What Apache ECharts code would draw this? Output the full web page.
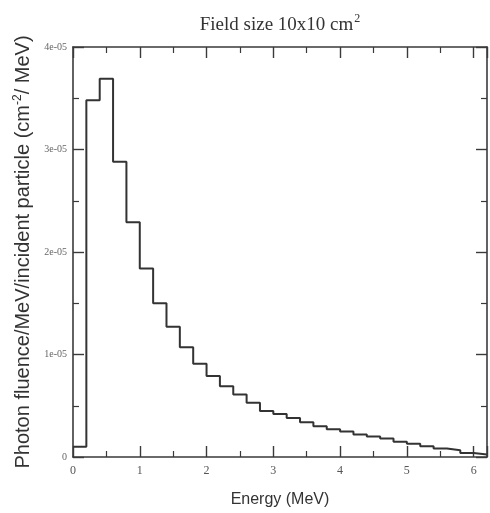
<!DOCTYPE html>
<html>
<head>
<meta charset="utf-8">
<script src="https://cdn.jsdelivr.net/npm/echarts@6/dist/echarts.min.js"></script>
<style>
  html, body { margin: 0; padding: 0; background: #fff; }
  #chart { width: 490px; height: 513px; }
</style>
</head>
<body>
<div id="chart"></div>
<script>
// Photon energy spectrum, 0.2 MeV bins (left bin edges in MeV)
const binEdges = [0.0, 0.2, 0.4, 0.6, 0.8, 1.0, 1.2, 1.4, 1.6, 1.8, 2.0, 2.2, 2.4, 2.6, 2.8, 3.0,
                  3.2, 3.4, 3.6, 3.8, 4.0, 4.2, 4.4, 4.6, 4.8, 5.0, 5.2, 5.4, 5.6, 5.8, 6.0];
const binUpper = 6.2;
// Fluence per bin, in units of 1e-5 photons / cm^2 / MeV / incident particle
const fluence = [0.10, 3.48, 3.69, 2.88, 2.29, 1.84, 1.50, 1.27, 1.07, 0.91, 0.79, 0.69, 0.61, 0.53, 0.45,
                 0.42, 0.38, 0.34, 0.30, 0.27, 0.25, 0.22, 0.20, 0.18, 0.15, 0.13, 0.105, 0.083, 0.067, 0.04, 0.025];
const xTickLabels = ['0', '1', '2', '3', '4', '5', '6'];
const yTickLabels = ['0', '1e-05', '2e-05', '3e-05', '4e-05'];

const scale = 1e-5;
const stepData = binEdges.map((e, i) => [e, fluence[i] * scale]);
stepData.push([binUpper, fluence[fluence.length - 1] * scale]);

const axisColor = '#3a3a3a';
const serif = '"Liberation Serif", "DejaVu Serif", serif';
const sans = '"Liberation Sans", Arial, sans-serif';

const gridLeft = 73, gridRight = 3;
const chartWidth = 490;

const chart = echarts.init(document.getElementById('chart'), null, { renderer: 'canvas' });

const frameAxis = {
  axisLine: { show: true, onZero: false, lineStyle: { color: axisColor, width: 1.6 } },
  axisTick: { show: true, inside: true, length: 11, lineStyle: { color: axisColor, width: 1.4 } },
  minorTick: { show: true, splitNumber: 2, length: 6, lineStyle: { color: axisColor, width: 1.2 } },
  splitLine: { show: false },
  minorSplitLine: { show: false }
};

chart.setOption({
  animation: false,
  backgroundColor: '#ffffff',
  title: {
    text: 'Field size 10x10 cm{sup|2}',
    // centred over the plotting area rather than the whole canvas
    left: (gridLeft + chartWidth - gridRight) / 2,
    textAlign: 'center',
    top: 13,
    padding: 0,
    textStyle: {
      fontFamily: serif, fontSize: 19, fontWeight: 'normal', color: '#333',
      rich: { sup: { fontFamily: serif, fontSize: 12, color: '#333', verticalAlign: 'top', padding: [0, 0, 12, 1] } }
    }
  },
  grid: { left: gridLeft, right: gridRight, top: 47, bottom: 46, containLabel: false },
  xAxis: [
    Object.assign({}, frameAxis, {
      type: 'value', min: 0, max: binUpper, interval: 1, position: 'bottom',
      name: 'Energy (MeV)', nameLocation: 'middle', nameGap: 35,
      nameTextStyle: { fontFamily: sans, fontSize: 16, color: '#333' },
      axisLabel: {
        show: true, margin: 8, fontFamily: serif, fontSize: 12, color: '#555', showMaxLabel: false,
        formatter: (v) => { const i = Math.round(v); return Math.abs(v - i) < 1e-9 ? xTickLabels[i] : ''; }
      }
    }),
    Object.assign({}, frameAxis, {
      type: 'value', min: 0, max: binUpper, interval: 1, position: 'top',
      axisLabel: { show: false }
    })
  ],
  yAxis: [
    Object.assign({}, frameAxis, {
      type: 'value', min: 0, max: 4e-5, interval: 1e-5, position: 'left',
      name: 'Photon fluence/MeV/incident particle (cm{sup|-2}/ MeV)',
      nameLocation: 'middle', nameRotate: 90, nameGap: 36,
      nameTextStyle: {
        fontFamily: sans, fontSize: 20, color: '#333',
        rich: { sup: { fontFamily: sans, fontSize: 12, color: '#333', verticalAlign: 'top', padding: [0, 0, 12, 0] } }
      },
      axisLabel: {
        show: true, margin: 6, fontFamily: serif, fontSize: 10, color: '#666',
        formatter: (v) => { const i = Math.round(v / 1e-5); return Math.abs(v / 1e-5 - i) < 1e-6 ? yTickLabels[i] : ''; }
      }
    }),
    Object.assign({}, frameAxis, {
      type: 'value', min: 0, max: 4e-5, interval: 1e-5, position: 'right',
      axisLabel: { show: false }
    })
  ],
  series: [{
    type: 'line',
    xAxisIndex: 0,
    yAxisIndex: 0,
    step: 'end',
    data: stepData,
    showSymbol: false,
    lineStyle: { color: '#333', width: 2 },
    silent: true
  }]
});
</script>
</body>
</html>
